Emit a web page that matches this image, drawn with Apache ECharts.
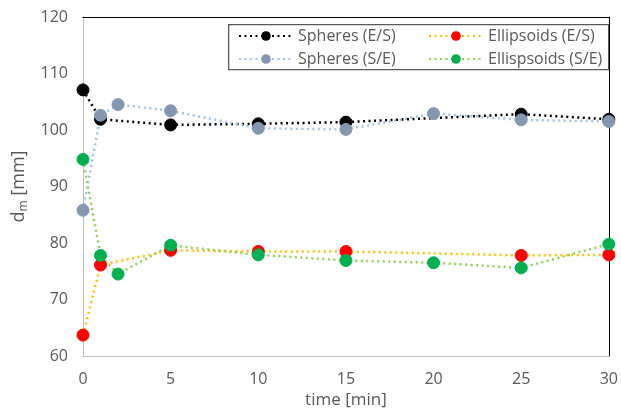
<!DOCTYPE html>
<html>
<head>
<meta charset="utf-8">
<script src="https://cdn.jsdelivr.net/npm/echarts@6/dist/echarts.min.js"></script>
<style>html,body{margin:0;padding:0;background:#fff}#chart{width:621px;height:414px}</style>
</head>
<body>
<div id="chart"></div>
<script>
var timesES = [0, 1, 5, 10, 15, 25, 30];
var timesSE = [0, 1, 2, 5, 10, 15, 20, 25, 30];
var spheresES = [107.1, 101.9, 100.9, 101.1, 101.4, 102.8, 101.9];
var ellipsoidsES = [63.7, 76.1, 78.7, 78.5, 78.5, 77.8, 77.9];
var spheresSE = [85.8, 102.6, 104.5, 103.4, 100.3, 100.1, 102.9, 101.8, 101.5];
var ellipsoidsSE = [94.8, 77.8, 74.5, 79.6, 77.9, 76.9, 76.5, 75.6, 79.8];
var seriesNames = ['Spheres (E/S)', 'Ellipsoids (E/S)', 'Spheres (S/E)', 'Ellispsoids (S/E)'];
var xTicks = [0, 5, 10, 15, 20, 25, 30];
var yTicks = [60, 70, 80, 90, 100, 110, 120];

function pairs(xs, ys) { return xs.map(function (x, i) { return [x, ys[i]]; }); }

var FONT = '"Open Sans", "Noto Sans", sans-serif';
var TXT = '#595959';

function mk(name, xs, ys, lineColor, markColor) {
  return {
    name: name, type: 'line', data: pairs(xs, ys),
    symbol: 'circle', symbolSize: 12,
    lineStyle: { color: lineColor, width: 2.5, type: [2, 3.5] },
    itemStyle: { color: markColor, borderColor: markColor },
    color: markColor
  };
}

var chart = echarts.init(document.getElementById('chart'), null, { renderer: 'canvas' });
chart.setOption({
  animation: false,
  textStyle: { fontFamily: FONT },
  grid: { left: 83, right: 8, top: 17, bottom: 56 },
  xAxis: [{
    type: 'value', min: xTicks[0], max: xTicks[xTicks.length - 1], interval: 5,
    name: 'time [min]', nameLocation: 'middle', nameGap: 36,
    nameTextStyle: { color: TXT, fontSize: 17, fontFamily: FONT },
    axisLine: { show: true, lineStyle: { color: '#bfbfbf', width: 1 } },
    axisTick: { show: false }, splitLine: { show: false },
    axisLabel: { color: TXT, fontSize: 16, margin: 15, fontFamily: FONT }
  }, {
    type: 'value', position: 'top', min: 0, max: 30,
    axisLine: { show: true, onZero: false, lineStyle: { color: '#000', width: 1 } },
    axisTick: { show: false }, axisLabel: { show: false }, splitLine: { show: false }
  }],
  yAxis: [{
    type: 'value', min: yTicks[0], max: yTicks[yTicks.length - 1], interval: 10,
    name: '{a|d}{s|m}{a| [mm]}', nameLocation: 'middle', nameGap: 50,
    nameTextStyle: {
      color: TXT, fontFamily: FONT,
      rich: {
        a: { fontSize: 18, color: TXT, fontFamily: FONT },
        s: { fontSize: 12, color: TXT, fontFamily: FONT, padding: [9, 0, 0, 0] }
      }
    },
    axisLine: { show: true, lineStyle: { color: '#bfbfbf', width: 1 } },
    axisTick: { show: false }, splitLine: { show: false },
    axisLabel: { color: TXT, fontSize: 16, margin: 15, fontFamily: FONT }
  }, {
    type: 'value', position: 'right', min: 60, max: 120,
    axisLine: { show: true, onZero: false, lineStyle: { color: '#000', width: 1 } },
    axisTick: { show: false }, axisLabel: { show: false }, splitLine: { show: false }
  }],
  legend: [{
    data: [seriesNames[0], seriesNames[2]], orient: 'vertical', padding: 0,
    left: 238, top: 28, itemWidth: 54, itemHeight: 12, itemGap: 7,
    textStyle: { color: TXT, fontSize: 16, fontFamily: FONT }
  }, {
    data: [seriesNames[1], seriesNames[3]], orient: 'vertical', padding: 0,
    left: 428, top: 28, itemWidth: 54, itemHeight: 12, itemGap: 7,
    textStyle: { color: TXT, fontSize: 16, fontFamily: FONT }
  }],
  graphic: [{
    type: 'rect', left: 228, top: 24, z: 0,
    shape: { width: 380, height: 45 },
    style: { fill: '#fff', stroke: '#595959', lineWidth: 1.3 }
  }],
  series: [
    mk(seriesNames[0], timesES, spheresES, '#000000', '#000000'),
    mk(seriesNames[1], timesES, ellipsoidsES, '#ffc000', '#ff0000'),
    mk(seriesNames[2], timesSE, spheresSE, '#9dc3e6', '#8497b0'),
    mk(seriesNames[3], timesSE, ellipsoidsSE, '#92d050', '#00b050')
  ]
});
</script>
</body>
</html>
